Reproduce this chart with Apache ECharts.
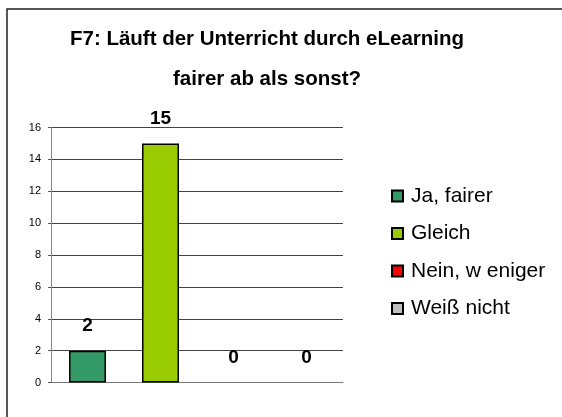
<!DOCTYPE html>
<html><head><meta charset="utf-8">
<script src="https://cdn.jsdelivr.net/npm/echarts@6/dist/echarts.min.js"></script>
<style>html,body{margin:0;padding:0;background:#fff}#c{width:562px;height:417px}</style>
</head><body><div id="c"></div>
<script>
const categories = ['Ja, fairer', 'Gleich', 'Nein, w eniger', 'Weiß nicht'];
const values = [2, 15, 0, 0];
const colors = ['#339966', '#99CC00', '#FF0000', '#C0C0C0'];
const yTicks = [0, 2, 4, 6, 8, 10, 12, 14, 16];

const chart = echarts.init(document.getElementById('c'));
const series = categories.map((name, i) => ({
  name: name,
  type: 'bar',
  barWidth: 37,
  barGap: '-100%',
  data: values.map((v, j) => j === i ? (v === 0 ? { value: v, itemStyle: { borderWidth: 0 } } : v) : '-'),
  itemStyle: { color: colors[i], borderColor: '#000', borderWidth: 1.5 },
  label: { show: true, position: 'top', distance: 15, fontSize: 19, fontWeight: 'bold', color: '#000', fontFamily: 'Liberation Sans' },
  animation: false
}));
chart.setOption({
  animation: false,
  textStyle: { fontFamily: 'Liberation Sans' },
  title: {
    text: 'F7: Läuft der Unterricht durch eLearning\nfairer ab als sonst?',
    left: 262, top: 14, textAlign: 'center',
    textStyle: { fontSize: 20.5, fontWeight: 'bold', color: '#000', lineHeight: 40.5, fontFamily: 'Liberation Sans' }
  },
  graphic: [{ type: 'rect', shape: { x: 7, y: 9, width: 600, height: 450 }, style: { fill: 'none', stroke: '#222', lineWidth: 1.5 } }],
  legend: {
    orient: 'vertical', left: 391, top: 185.5, padding: 0,
    itemWidth: 11, itemHeight: 11, itemGap: 16.5,
    icon: 'rect',
    textStyle: { fontSize: 21, color: '#000', padding: [0, 0, 0, 3], fontFamily: 'Liberation Sans' },
    data: categories
  },
  grid: { left: 51, right: 219, top: 127.5, bottom: 34.5, containLabel: false },
  xAxis: {
    type: 'category', data: categories,
    axisLine: { lineStyle: { color: '#777', width: 1 } },
    axisTick: { show: false }, axisLabel: { show: false }
  },
  yAxis: {
    type: 'value', min: 0, max: 16, interval: 2,
    axisLine: { show: true, lineStyle: { color: '#888' } },
    axisTick: { show: true, length: 3, lineStyle: { color: '#555' } },
    axisLabel: { fontSize: 11, color: '#000', margin: 10, formatter: v => yTicks.includes(v) ? String(v) : '' },
    splitLine: { lineStyle: { color: '#444', width: 1 } }
  },
  series: series
});
</script></body></html>
